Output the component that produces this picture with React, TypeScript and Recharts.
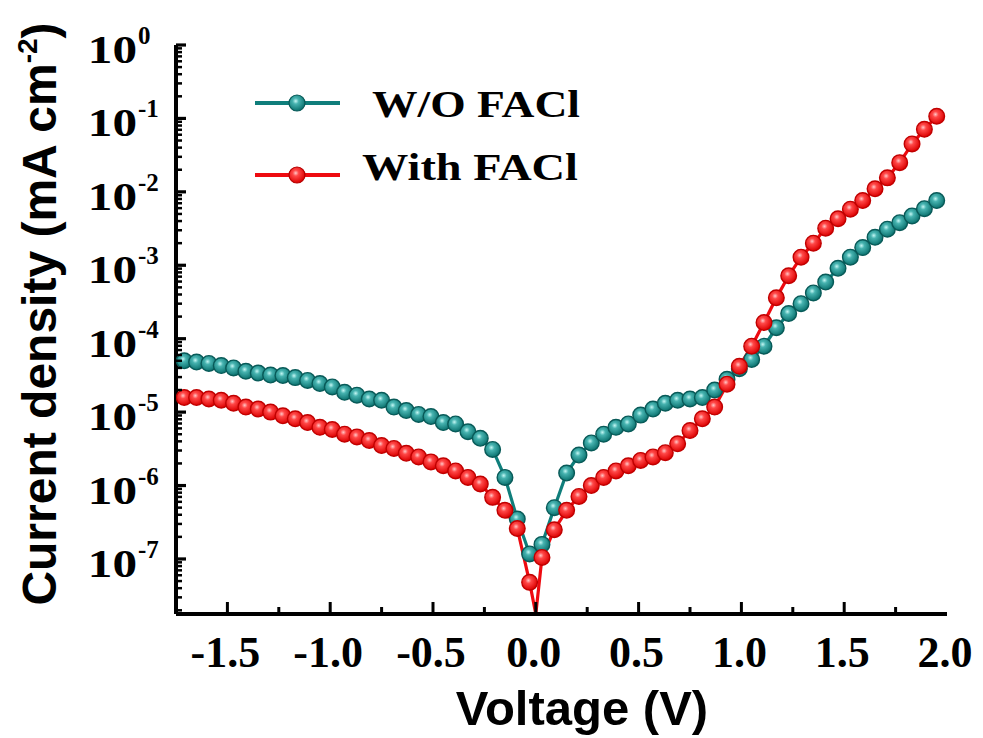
import React from 'react';
import { LineChart, Line, XAxis, YAxis, Legend, Label } from 'recharts';

// Voltage (V)
const voltage = [
  -1.71, -1.65, -1.59, -1.53, -1.47, -1.41, -1.35, -1.29, -1.23, -1.17,
  -1.11, -1.05, -0.99, -0.93, -0.87, -0.81, -0.75, -0.69, -0.63, -0.57,
  -0.51, -0.45, -0.39, -0.33, -0.27, -0.21, -0.15, -0.09, -0.03, 0.0,
  0.03, 0.09, 0.15, 0.21, 0.27, 0.33, 0.39, 0.45, 0.51, 0.57,
  0.63, 0.69, 0.75, 0.81, 0.87, 0.93, 0.99, 1.05, 1.11, 1.17,
  1.23, 1.29, 1.35, 1.41, 1.47, 1.53, 1.59, 1.65, 1.71, 1.77,
  1.83, 1.89, 1.95,
];

// Current density (mA cm-2), W/O FACl
const withoutFACl = [
  5.0e-5, 4.8e-5, 4.6e-5, 4.3e-5, 4.0e-5, 3.6e-5, 3.4e-5, 3.2e-5, 3.15e-5, 2.95e-5,
  2.7e-5, 2.45e-5, 2.2e-5, 1.86e-5, 1.7e-5, 1.51e-5, 1.45e-5, 1.17e-5, 1.05e-5, 9.3e-6,
  8.7e-6, 7.2e-6, 6.9e-6, 5.4e-6, 4.4e-6, 3.1e-6, 1.29e-6, 3.5e-7, 1.17e-7, null,
  1.58e-7, 5.0e-7, 1.48e-6, 2.6e-6, 3.8e-6, 5.0e-6, 6.2e-6, 6.9e-6, 9.1e-6, 1.1e-5,
  1.32e-5, 1.45e-5, 1.51e-5, 1.58e-5, 2.0e-5, 2.8e-5, 3.9e-5, 5.2e-5, 7.9e-5, 1.41e-4,
  2.2e-4, 3.0e-4, 4.2e-4, 5.9e-4, 9.1e-4, 1.29e-3, 1.74e-3, 2.4e-3, 3.1e-3, 3.8e-3,
  4.7e-3, 5.9e-3, 7.6e-3,
];

// Current density (mA cm-2), With FACl
const withFACl = [
  1.58e-5, 1.58e-5, 1.51e-5, 1.45e-5, 1.32e-5, 1.17e-5, 1.1e-5, 1.0e-5, 8.9e-6, 8.1e-6,
  7.2e-6, 6.2e-6, 5.8e-6, 5.0e-6, 4.6e-6, 4.1e-6, 3.5e-6, 3.2e-6, 2.75e-6, 2.45e-6,
  2.1e-6, 1.86e-6, 1.58e-6, 1.29e-6, 1.05e-6, 6.9e-7, 4.6e-7, 2.6e-7, 4.8e-8, 1.78e-8,
  1.05e-7, 2.5e-7, 4.6e-7, 7.1e-7, 1.0e-6, 1.29e-6, 1.58e-6, 1.86e-6, 2.2e-6, 2.45e-6,
  2.8e-6, 3.7e-6, 5.6e-6, 8.1e-6, 1.17e-5, 2.4e-5, 4.2e-5, 7.9e-5, 1.66e-4, 3.6e-4,
  7.2e-4, 1.29e-3, 2.0e-3, 3.2e-3, 4.3e-3, 5.8e-3, 7.6e-3, 1.1e-2, 1.55e-2, 2.5e-2,
  4.5e-2, 7.1e-2, 1.07e-1,
];

const seriesNames = ['W/O FACl', 'With FACl'];
const xTicks = [-1.5, -1.25, -1.0, -0.75, -0.5, -0.25, 0, 0.25, 0.5, 0.75, 1.0, 1.25, 1.5, 1.75, 2.0];
const yExponents = [-8, -7, -6, -5, -4, -3, -2, -1, 0];
const yMinorFactors = [2, 3, 4, 5, 6, 7, 8, 9];

const Y_MIN = 1.78e-8;
const Y_MAX = 1;

const yTicks: number[] = [];
yExponents.forEach((e) => {
  const base = Math.pow(10, e);
  if (base >= Y_MIN && base <= Y_MAX) yTicks.push(base);
  if (e < 0) {
    yMinorFactors.forEach((f) => {
      const v = f * base;
      if (v >= Y_MIN && v < Y_MAX) yTicks.push(v);
    });
  }
});

const data = voltage.map((v, i) => ({ v, wo: withoutFACl[i], w: withFACl[i] }));

const SERIF = "'Liberation Serif', 'Times New Roman', serif";
const SANS = "'Liberation Sans', Arial, sans-serif";
const TEAL = '#0f7e7b';
const RED = '#ee0a10';

const XTick = (props: any) => {
  const { x, y, payload } = props;
  const v = payload.value as number;
  const major = Math.abs(v * 2 - Math.round(v * 2)) < 1e-6;
  return (
    <g>
      {v < 1.99 && (
        <line x1={x} x2={x} y1={y} y2={y - (major ? 12 : 7)} stroke="#000" strokeWidth={3} />
      )}
      {major && (
        <text x={x - 2} y={y + 53} textAnchor="middle" fontFamily={SERIF} fontWeight="bold" fontSize={44} fill="#000">
          {v.toFixed(1)}
        </text>
      )}
    </g>
  );
};

const YTick = (props: any) => {
  const { x, y, payload } = props;
  const v = payload.value as number;
  const lg = Math.log10(v);
  const e = Math.round(lg);
  const major = Math.abs(lg - e) < 1e-6;
  return (
    <g>
      <line x1={x} x2={x + (major ? 10 : 6)} y1={y} y2={y} stroke="#000" strokeWidth={major ? 3.2 : 2.5} />
      {major && (
        <g>
          <text
            transform={`translate(${x - 39},${y + 18}) scale(1.2,1)`}
            textAnchor="end"
            fontFamily={SERIF}
            fontWeight="bold"
            fontSize={41}
            fill="#000"
          >
            10
          </text>
          <text x={x - 38} y={y - 1} textAnchor="start" fontFamily={SERIF} fontWeight="bold" fontSize={25} fill="#000">
            {e === 0 ? '0' : `-${Math.abs(e)}`}
          </text>
        </g>
      )}
    </g>
  );
};

const makeDot = (grad: string, edge: string) => (props: any) => {
  const { cx, cy, index, value } = props;
  if (cx == null || cy == null || value == null || !isFinite(cy) || cy > 605) {
    return <g key={`e${index}`} />;
  }
  return (
    <circle key={`d${index}`} cx={cx} cy={cy} r={7.8} fill={`url(#${grad})`} stroke={edge} strokeWidth={1.4} />
  );
};

const renderLegend = (props: any) => {
  const payload = props.payload || [];
  const grads = ['gTeal', 'gRed'];
  const edges = ['#085a58', '#b50000'];
  const textX = [132, 122];
  const textY = [47, 110];
  const lens = [208, 216];
  return (
    <svg width={420} height={140} style={{ display: 'block', overflow: 'visible' }}>
      {payload.map((it: any, i: number) => {
        const cy = 33 + i * 72;
        return (
          <g key={i}>
            <line x1={15} x2={100} y1={cy} y2={cy} stroke={it.color} strokeWidth={4} />
            <circle cx={57} cy={cy} r={8} fill={`url(#${grads[i]})`} stroke={edges[i]} strokeWidth={1.2} />
            <text
              x={textX[i]}
              y={textY[i]}
              fontFamily={SERIF}
              fontWeight="bold"
              fontSize={37}
              textLength={lens[i]}
              lengthAdjust="spacingAndGlyphs"
              fill="#000"
            >
              {it.value}
            </text>
          </g>
        );
      })}
    </svg>
  );
};

export default function App() {
  return (
    <div style={{ position: 'absolute', left: 0, top: 0, width: 983, height: 738, background: '#fff' }}>
      <LineChart width={983} height={738} data={data} margin={{ top: 45, right: 36, bottom: 0, left: 0 }}>
        <defs>
          <radialGradient id="gTeal" cx="42%" cy="38%" r="62%">
            <stop offset="0%" stopColor="#c4f7f4" />
            <stop offset="30%" stopColor="#47b3b0" />
            <stop offset="100%" stopColor="#0a716e" />
          </radialGradient>
          <radialGradient id="gRed" cx="42%" cy="38%" r="62%">
            <stop offset="0%" stopColor="#ffc6c6" />
            <stop offset="30%" stopColor="#ff4848" />
            <stop offset="100%" stopColor="#dc0000" />
          </radialGradient>
        </defs>
        <XAxis
          dataKey="v"
          type="number"
          domain={[-1.75, 2.0]}
          ticks={xTicks}
          interval={0}
          allowDataOverflow
          tick={XTick}
          tickLine={false}
          tickSize={0}
          tickMargin={0}
          height={124}
          axisLine={{ stroke: '#000', strokeWidth: 4 }}
        >
          <Label
            content={() => (
              <text x={582} y={725} textAnchor="middle" fontFamily={SANS} fontWeight="bold" fontSize={49} fill="#000">
                Voltage (V)
              </text>
            )}
          />
        </XAxis>
        <XAxis
          xAxisId="top"
          orientation="top"
          type="number"
          domain={[-1.75, 2.0]}
          allowDataOverflow
          tick={false}
          tickLine={false}
          height={0}
          axisLine={{ stroke: '#000', strokeWidth: 4 }}
        />
        <YAxis
          type="number"
          scale="log"
          domain={[Y_MIN, Y_MAX]}
          ticks={yTicks}
          interval={0}
          allowDataOverflow
          tick={YTick}
          tickLine={false}
          tickSize={0}
          tickMargin={0}
          width={176}
          axisLine={{ stroke: '#000', strokeWidth: 4 }}
        >
          <Label
            content={() => (
              <text
                transform="translate(56,314) rotate(-90)"
                textAnchor="middle"
                fontFamily={SANS}
                fontWeight="bold"
                fontSize={48}
                fill="#000"
              >
                Current density (mA cm
                <tspan dy={-19} fontSize={28}>-2</tspan>
                <tspan dy={19}>)</tspan>
              </text>
            )}
          />
        </YAxis>
        <YAxis
          yAxisId="right"
          orientation="right"
          type="number"
          scale="log"
          domain={[Y_MIN, Y_MAX]}
          allowDataOverflow
          tick={false}
          tickLine={false}
          width={0}
          axisLine={{ stroke: '#000', strokeWidth: 4 }}
        />
        <Legend
          layout="vertical"
          align="center"
          verticalAlign="middle"
          content={renderLegend}
          wrapperStyle={{ position: 'absolute', left: 240, top: 70, width: 420, height: 140 }}
        />
        <Line
          type="linear"
          dataKey="wo"
          name={seriesNames[0]}
          stroke={TEAL}
          strokeWidth={3.2}
          dot={makeDot('gTeal', '#085a58')}
          activeDot={false}
          connectNulls
          isAnimationActive={false}
        />
        <Line
          type="linear"
          dataKey="w"
          name={seriesNames[1]}
          stroke={RED}
          strokeWidth={3.2}
          dot={makeDot('gRed', '#c00000')}
          activeDot={false}
          isAnimationActive={false}
        />
      </LineChart>
    </div>
  );
}
